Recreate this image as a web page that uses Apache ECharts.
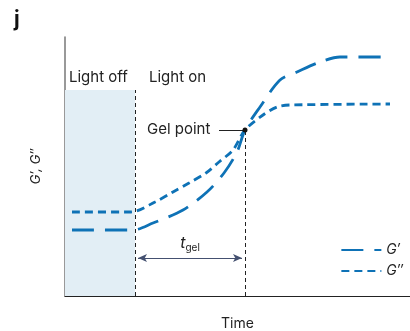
<!DOCTYPE html>
<html>
<head>
<meta charset="utf-8">
<script src="https://cdn.jsdelivr.net/npm/echarts@6/dist/echarts.min.js"></script>
<style>
  html, body { margin: 0; padding: 0; background: #fff; }
  #chart { width: 410px; height: 331px; }
</style>
</head>
<body>
<div id="chart"></div>
<script>
// x = time (arbitrary units), y = modulus (arbitrary units)
const gPrime = [[7, 66], [68, 66], [88, 73], [118, 86], [142, 104], [159, 123], [172, 144], [180, 166], [195, 189], [215, 216], [232, 224], [255, 234], [275, 239], [325, 239]];
const gDouble = [[7, 84], [66, 84], [90, 94], [108, 104], [124, 113], [141, 123], [154, 134], [168, 146], [180, 166], [198, 181], [212, 189], [225, 191], [325, 192]];
const lightOnAt = 70;
const gelAt = [180, 166];
const shadeTop = 206;
const seriesNames = ['G\u2032', 'G\u2033'];

const blue = '#0e72b6';
const chart = echarts.init(document.getElementById('chart'));
const font = 'Inter, "Noto Sans", sans-serif';

const option = {
  animation: false,
  grid: { left: 65, right: 0, top: 37, bottom: 35, outerBoundsMode: 'none' },
  xAxis: {
    type: 'value', min: 0, max: 345,
    axisLine: { lineStyle: { color: '#222', width: 1.2 } },
    axisTick: { show: false }, axisLabel: { show: false }, splitLine: { show: false },
    name: 'Time', nameLocation: 'middle', nameGap: 21,
    nameTextStyle: { fontFamily: font, fontSize: 14, color: '#222' },
  },
  yAxis: {
    type: 'value', min: 0, max: 259,
    axisLine: { show: true, lineStyle: { color: '#777', width: 1.5 } },
    axisTick: { show: false }, axisLabel: { show: false }, splitLine: { show: false },
    name: 'G\u2032, G\u2033', nameLocation: 'middle', nameGap: 22,
    nameTextStyle: { fontFamily: font, fontSize: 13, color: '#222', fontStyle: 'italic' },
  },
  legend: {
    orient: 'vertical', right: 2, top: 238, itemGap: 7,
    itemWidth: 40, itemHeight: 10,
    itemStyle: { opacity: 0 },
    textStyle: { fontFamily: font, fontSize: 14, fontStyle: 'italic', color: '#222' },
    data: seriesNames,
  },
  graphic: [
    { type: 'text', left: 14, top: 9, style: { text: 'j', font: 'bold 21px ' + font, fill: '#111' } },
    { type: 'text', left: 69, top: 70, style: { text: 'Light off', font: '15px ' + font, fill: '#222' } },
    { type: 'text', left: 149, top: 70, style: { text: 'Light on', font: '15px ' + font, fill: '#222' } },
    { type: 'text', left: 147, top: 122, style: { text: 'Gel point', font: '15px ' + font, fill: '#222' } },
  ],
  series: [
    {
      name: seriesNames[0], type: 'line', data: gPrime, smooth: 0.3, symbol: 'none',
      lineStyle: { color: blue, width: 2.8, type: [22, 11] },
      itemStyle: { color: blue },
      markArea: {
        silent: true,
        itemStyle: { color: '#e2eef5' },
        data: [[{ coord: [0, 0] }, { coord: [lightOnAt, shadeTop] }]],
      },
      markLine: {
        silent: true, symbol: 'none',
        label: { show: false },
        lineStyle: { color: '#222', width: 1, type: [4, 3] },
        data: [
          [{ coord: [lightOnAt, 0] }, { coord: [lightOnAt, shadeTop] }],
          [{ coord: [gelAt[0], 0] }, { coord: gelAt }],
          [{ coord: [154, gelAt[1]], lineStyle: { type: 'solid', color: '#222' } }, { coord: gelAt }],
          [
            {
              coord: [73, 38], symbol: 'arrow', symbolSize: [6, 9],
              lineStyle: { type: 'solid', color: '#445070', width: 1.2 },
              label: {
                show: true, position: 'middle',
                backgroundColor: '#fff', padding: [0, 4],
                formatter: '{t|t}{s|gel}',
                rich: {
                  t: { fontFamily: font, fontStyle: 'italic', fontSize: 16, color: '#222' },
                  s: { fontFamily: font, fontSize: 10, color: '#222', padding: [10, 0, 0, 0] },
                },
              },
            },
            { coord: [177, 38], symbol: 'arrow', symbolSize: [6, 9] },
          ],
        ],
      },
      markPoint: {
        silent: true, symbol: 'circle', symbolSize: 5,
        itemStyle: { color: '#111' }, label: { show: false },
        data: [{ coord: gelAt }],
      },
      z: 3,
    },
    {
      name: seriesNames[1], type: 'line', data: gDouble, smooth: 0.3, symbol: 'none',
      lineStyle: { color: blue, width: 2.8, type: [8, 5] },
      itemStyle: { color: blue },
      z: 2,
    },
  ],
};
chart.setOption(option);
</script>
</body>
</html>
